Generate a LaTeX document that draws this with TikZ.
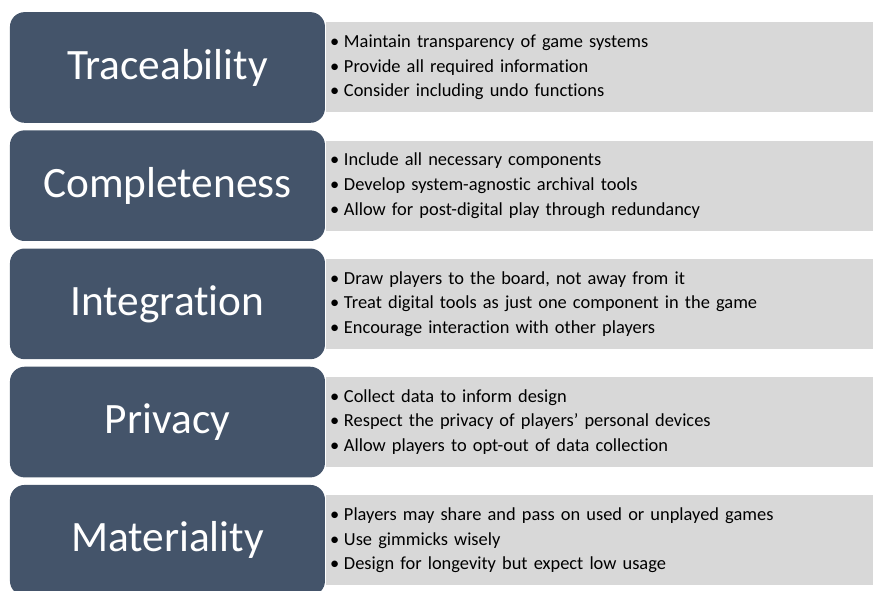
\documentclass[tikz,border=0pt]{standalone}
\usepackage{fontspec}
\setmainfont{Carlito}[Ligatures=NoCommon]
\usetikzlibrary{positioning}
\definecolor{pillarblue}{HTML}{44546A}
\definecolor{advicegrey}{HTML}{D8D8D8}
\newcommand{\bpoint}{\textbullet\hspace{3.5pt}}
\newcommand{\tightspaces}{\spaceskip 2.5pt\relax}
\tikzset{
  pillar/.style={rectangle, rounded corners=11pt, fill=pillarblue, text=white, minimum width=236.25pt, minimum height=83pt, inner sep=0pt, font=\fontsize{32.5}{38}\selectfont},
  advice/.style={rectangle, fill=advicegrey, minimum width=411pt, minimum height=67.5pt, text width=404pt, inner xsep=3.5pt, inner ysep=0pt, align=left, font=\fontsize{13.8}{18.4}\selectfont\tightspaces},
  node distance=5.25pt
}

\begin{document}
\begin{tikzpicture}
    \useasboundingbox (0,0) rectangle (654.75pt,-443.25pt);
    \node[pillar] (trace) at (125.6pt,-50.6pt) {Traceability};
    \node[pillar, below=of trace] (complete) {Completeness};
    \node[pillar, below=of complete] (integr) {Integration};
    \node[pillar, below=of integr] (privacy) {Privacy};
    \node[pillar, below=of privacy] (material) {Materiality};
    \node[advice, right=0pt of trace] (traceinfo) {\bpoint Maintain transparency of game systems\\\bpoint Provide all required information\\\bpoint Consider including undo functions};
    \node[advice, right=0pt of complete] (completeinfo) {\bpoint Include all necessary components\\\bpoint Develop system-agnostic archival tools\\\bpoint Allow for post-digital play through redundancy};
    \node[advice, right=0pt of integr] (integrinfo) {\bpoint Draw players to the board, not away from it\\\bpoint Treat digital tools as just one component in the game\\\bpoint Encourage interaction with other players};
    \node[advice, right=0pt of privacy] (privacyinfo) {\bpoint Collect data to inform design\\\bpoint Respect the privacy of players’ personal devices\\\bpoint Allow players to opt-out of data collection};
    \node[advice, right=0pt of material] (materialinfo) {\bpoint Players may share and pass on used or unplayed games\\\bpoint Use gimmicks wisely\\\bpoint Design for longevity but expect low usage};
\end{tikzpicture}
\end{document}
